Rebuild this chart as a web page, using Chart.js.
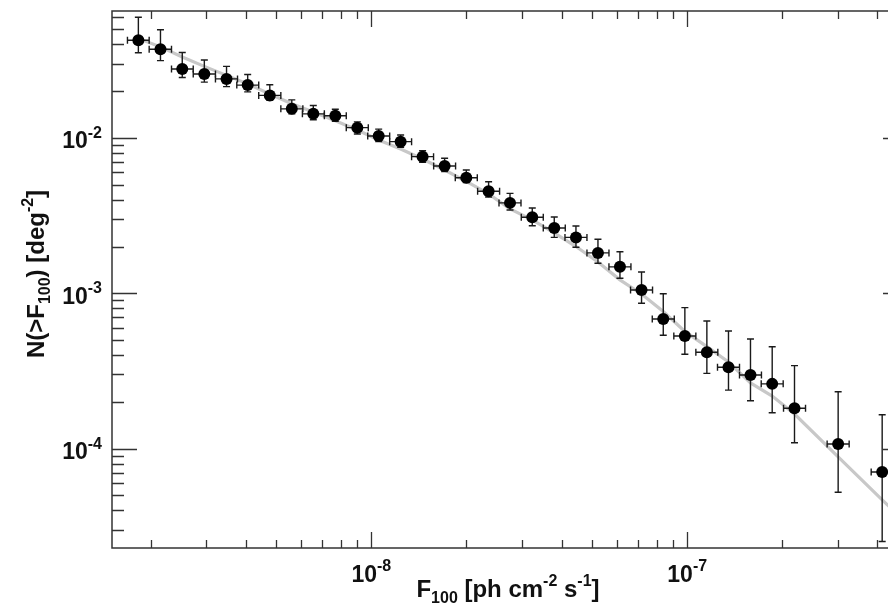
<!DOCTYPE html>
<html>
<head>
<meta charset="utf-8">
<title>N(>F100)</title>
<script src="https://cdn.jsdelivr.net/npm/chart.js@4/dist/chart.umd.min.js"></script>
<style>
  html, body { margin: 0; padding: 0; background: #fff; overflow: hidden; }
  canvas { display: block; }
</style>
</head>
<body>
<canvas id="logn" width="920" height="609"></canvas>
<script>
// source counts: flux bins and N(>F)
const flux = [1.83e-9, 2.15e-9, 2.52e-9, 2.96e-9, 3.48e-9, 4.06e-9, 4.77e-9, 5.6e-9, 6.55e-9, 7.69e-9,
  9.03e-9, 1.055e-8, 1.238e-8, 1.453e-8, 1.706e-8, 1.998e-8, 2.351e-8, 2.748e-8, 3.232e-8, 3.794e-8,
  4.444e-8, 5.217e-8, 6.124e-8, 7.168e-8, 8.398e-8, 9.83e-8, 1.154e-7, 1.351e-7, 1.586e-7, 1.858e-7,
  2.186e-7, 3.005e-7, 4.142e-7];
const fluxLo = [1.69e-9, 1.98e-9, 2.33e-9, 2.73e-9, 3.21e-9, 3.75e-9, 4.4e-9, 5.17e-9, 6.05e-9, 7.1e-9,
  8.33e-9, 9.74e-9, 1.143e-8, 1.341e-8, 1.575e-8, 1.844e-8, 2.17e-8, 2.536e-8, 2.983e-8, 3.502e-8,
  4.102e-8, 4.815e-8, 5.652e-8, 6.616e-8, 7.751e-8, 9.07e-8, 1.065e-7, 1.247e-7, 1.464e-7, 1.715e-7,
  2.018e-7, 2.773e-7, 3.823e-7];
const fluxHi = [1.98e-9, 2.33e-9, 2.73e-9, 3.21e-9, 3.77e-9, 4.4e-9, 5.17e-9, 6.07e-9, 7.1e-9, 8.33e-9,
  9.78e-9, 1.143e-8, 1.341e-8, 1.574e-8, 1.848e-8, 2.165e-8, 2.547e-8, 2.977e-8, 3.502e-8, 4.111e-8,
  4.815e-8, 5.653e-8, 6.635e-8, 7.767e-8, 9.1e-8, 1.065e-7, 1.25e-7, 1.464e-7, 1.718e-7, 2.013e-7,
  2.369e-7, 3.256e-7, 4.488e-7];
const nSrc = [0.0426, 0.0373, 0.0278, 0.0258, 0.024, 0.0219, 0.0188, 0.0154, 0.0143, 0.0139,
  0.01165, 0.0103, 0.00947, 0.00758, 0.0066, 0.00555, 0.00454, 0.00382, 0.00309, 0.00263,
  0.00229, 0.00182, 0.00148, 0.00105, 6.83e-4, 5.31e-4, 4.17e-4, 3.34e-4, 2.98e-4, 2.61e-4,
  1.82e-4, 1.07e-4, 7.07e-5];
const nHi = [0.0599, 0.0498, 0.0355, 0.0318, 0.0289, 0.0256, 0.022, 0.0176, 0.0162, 0.0153,
  0.0127, 0.0114, 0.01045, 0.00828, 0.0074, 0.00622, 0.00522, 0.0044, 0.00354, 0.0031,
  0.00271, 0.00223, 0.00185, 0.00137, 9.94e-4, 8.08e-4, 6.63e-4, 5.72e-4, 5.08e-4, 4.53e-4,
  3.42e-4, 2.32e-4, 1.65e-4];
const nLo = [0.0354, 0.0315, 0.0245, 0.0229, 0.0214, 0.0198, 0.0175, 0.0143, 0.0131, 0.0128,
  0.0106, 0.00947, 0.00871, 0.00698, 0.00607, 0.00516, 0.00417, 0.00344, 0.00272, 0.00229,
  0.00198, 0.00156, 0.00125, 8.62e-4, 5.37e-4, 4.05e-4, 3.05e-4, 2.38e-4, 2.03e-4, 1.7e-4,
  1.09e-4, 5.23e-5, 2.52e-5];

// model curve (gray)
const modelFlux = [1.83e-9, 2.15e-9, 2.52e-9, 2.96e-9, 3.48e-9, 4.06e-9, 4.77e-9, 5.6e-9, 6.55e-9, 7.69e-9,
  9.03e-9, 1.055e-8, 1.238e-8, 1.453e-8, 1.706e-8, 1.998e-8, 2.351e-8, 2.748e-8, 3.232e-8, 3.794e-8,
  4.444e-8, 5.217e-8, 6.124e-8, 7.168e-8, 8.398e-8, 9.83e-8, 1.154e-7, 1.351e-7, 1.586e-7, 1.858e-7,
  2.186e-7, 3.005e-7, 4.142e-7, 4.72e-7];
const modelN = [0.0437, 0.0386, 0.0332, 0.0289, 0.0253, 0.0223, 0.0192, 0.0166, 0.0147, 0.0129,
  0.01126, 0.00971, 0.0085, 0.00732, 0.00622, 0.00525, 0.00436, 0.00349, 0.00297, 0.00245,
  0.002, 0.00159, 0.00122, 9.9e-4, 7.63e-4, 5.68e-4, 4.53e-4, 3.61e-4, 2.65e-4, 2.18e-4,
  1.67e-4, 8.83e-5, 4.67e-5, 3.63e-5];

// axes
const xMin = 1.51e-9, xMax = 5e-7;
const yMin = 2.29e-5, yMax = 0.0657;
const xMajorTicks = [1e-8, 1e-7];
const xTickExp = ["-8", "-7"];
const xMinorTicks = [2e-9, 3e-9, 4e-9, 5e-9, 6e-9, 7e-9, 8e-9, 9e-9,
  2e-8, 3e-8, 4e-8, 5e-8, 6e-8, 7e-8, 8e-8, 9e-8, 2e-7, 3e-7, 4e-7];
const yMajorTicks = [1e-4, 1e-3, 1e-2];
const yTickExp = ["-4", "-3", "-2"];
const yMinorTicks = [3e-5, 4e-5, 5e-5, 6e-5, 7e-5, 8e-5, 9e-5,
  2e-4, 3e-4, 4e-4, 5e-4, 6e-4, 7e-4, 8e-4, 9e-4,
  2e-3, 3e-3, 4e-3, 5e-3, 6e-3, 7e-3, 8e-3, 9e-3,
  2e-2, 3e-2, 4e-2, 5e-2, 6e-2];

const FONT = "'Liberation Sans', Arial, sans-serif";
const ink = "#111";
const frameColor = "#333";

// text with super/subscripts: parts = [[text, "n"|"sup"|"sub"], ...]
function drawRich(ctx, parts, x, y, big, small) {
  const fontOf = (k) => "bold " + (k == "n" ? big : small) + "px " + FONT;
  let total = 0;
  parts.forEach((p) => {
    ctx.font = fontOf(p[1]);
    total += ctx.measureText(p[0]).width;
  });
  let cx = x - total / 2;
  ctx.textAlign = "left";
  ctx.textBaseline = "alphabetic";
  parts.forEach((p) => {
    ctx.font = fontOf(p[1]);
    let dy = 0;
    if (p[1] == "sup") dy = -big * 0.45;
    if (p[1] == "sub") dy = big * 0.25;
    ctx.fillText(p[0], cx, y + dy);
    cx += ctx.measureText(p[0]).width;
  });
}

const errorBars = {
  id: "errorBars",
  beforeDatasetDraw(chart, args) {
    if (args.index != 0) return;
    const { ctx, chartArea, scales } = chart;
    const sx = scales.x, sy = scales.y;
    ctx.save();
    ctx.beginPath();
    ctx.rect(chartArea.left, chartArea.top, chartArea.right - chartArea.left, chartArea.bottom - chartArea.top);
    ctx.clip();
    ctx.strokeStyle = "#1a1a1a";
    ctx.lineWidth = 1.4;
    const cap = 3.5;
    for (let i = 0; i < flux.length; i++) {
      const px = sx.getPixelForValue(flux[i]);
      const py = sy.getPixelForValue(nSrc[i]);
      const top = sy.getPixelForValue(nHi[i]);
      const bot = sy.getPixelForValue(nLo[i]);
      const left = sx.getPixelForValue(fluxLo[i]);
      const right = sx.getPixelForValue(fluxHi[i]);
      ctx.beginPath();
      ctx.moveTo(px, top); ctx.lineTo(px, bot);
      ctx.moveTo(px - cap, top); ctx.lineTo(px + cap, top);
      ctx.moveTo(px - cap, bot); ctx.lineTo(px + cap, bot);
      ctx.moveTo(left, py); ctx.lineTo(right, py);
      ctx.moveTo(left, py - cap); ctx.lineTo(left, py + cap);
      ctx.moveTo(right, py - cap); ctx.lineTo(right, py + cap);
      ctx.stroke();
    }
    ctx.restore();
  },
};

// frame, inward ticks, tick labels and axis titles
const frame = {
  id: "frame",
  afterDraw(chart) {
    const { ctx, chartArea, scales } = chart;
    const sx = scales.x, sy = scales.y;
    const L = chartArea.left, R = chartArea.right, T = chartArea.top, B = chartArea.bottom;
    ctx.save();
    ctx.strokeStyle = frameColor;
    ctx.lineWidth = 1.5;
    ctx.strokeRect(L, T, R - L, B - T);

    ctx.lineWidth = 1.3;
    ctx.beginPath();
    xMajorTicks.forEach((v) => {
      const p = Math.round(sx.getPixelForValue(v)) + 0.5;
      ctx.moveTo(p, B); ctx.lineTo(p, B - 16);
      ctx.moveTo(p, T); ctx.lineTo(p, T + 16);
    });
    xMinorTicks.forEach((v) => {
      const p = Math.round(sx.getPixelForValue(v)) + 0.5;
      ctx.moveTo(p, B); ctx.lineTo(p, B - 8);
      ctx.moveTo(p, T); ctx.lineTo(p, T + 8);
    });
    yMajorTicks.forEach((v) => {
      const p = Math.round(sy.getPixelForValue(v)) + 0.5;
      ctx.moveTo(L, p); ctx.lineTo(L + 25, p);
      ctx.moveTo(R, p); ctx.lineTo(R - 25, p);
    });
    yMinorTicks.forEach((v) => {
      const p = Math.round(sy.getPixelForValue(v)) + 0.5;
      ctx.moveTo(L, p); ctx.lineTo(L + 12, p);
      ctx.moveTo(R, p); ctx.lineTo(R - 12, p);
    });
    ctx.stroke();

    ctx.fillStyle = ink;
    // y tick labels, right aligned against the axis
    yMajorTicks.forEach((v, k) => {
      const p = sy.getPixelForValue(v);
      ctx.font = "bold 23px " + FONT;
      const w1 = ctx.measureText("10").width;
      ctx.font = "bold 16px " + FONT;
      const w2 = ctx.measureText(yTickExp[k]).width;
      drawRich(ctx, [["10", "n"], [yTickExp[k], "sup"]], 102 - (w1 + w2) / 2, p + 10.5, 23, 16);
    });
    // x tick labels
    xMajorTicks.forEach((v, k) => {
      const p = sx.getPixelForValue(v);
      drawRich(ctx, [["10", "n"], [xTickExp[k], "sup"]], p, 581.5, 23, 16);
    });

    // axis titles
    drawRich(ctx, [["F", "n"], ["100", "sub"], [" [ph cm", "n"], ["-2", "sup"], [" s", "n"], ["-1", "sup"], ["]", "n"]],
      508, 597, 24, 16);
    ctx.save();
    ctx.translate(43.5, 274);
    ctx.rotate(-Math.PI / 2);
    drawRich(ctx, [["N(>F", "n"], ["100", "sub"], [") [deg", "n"], ["-2", "sup"], ["]", "n"]], 0, 0, 24, 16);
    ctx.restore();
    ctx.restore();
  },
};

const points = flux.map((f, i) => ({ x: f, y: nSrc[i] }));
const model = modelFlux.map((f, i) => ({ x: f, y: modelN[i] }));

new Chart(document.getElementById("logn"), {
  type: "scatter",
  data: {
    datasets: [
      {
        label: "data",
        data: points,
        pointRadius: 6,
        pointHoverRadius: 6,
        pointBackgroundColor: "#000",
        pointBorderColor: "#000",
        pointBorderWidth: 0,
        showLine: false,
      },
      {
        label: "model",
        type: "line",
        data: model,
        borderColor: "#c8c8c8",
        borderWidth: 3.2,
        pointRadius: 0,
        tension: 0,
        fill: false,
      },
    ],
  },
  options: {
    responsive: false,
    animation: false,
    layout: { padding: { left: 112, top: 11, right: 12, bottom: 61 } },
    plugins: { legend: { display: false }, tooltip: { enabled: false } },
    scales: {
      x: { type: "logarithmic", min: xMin, max: xMax, display: false },
      y: { type: "logarithmic", min: yMin, max: yMax, display: false },
    },
  },
  plugins: [errorBars, frame],
});
</script>
</body>
</html>
